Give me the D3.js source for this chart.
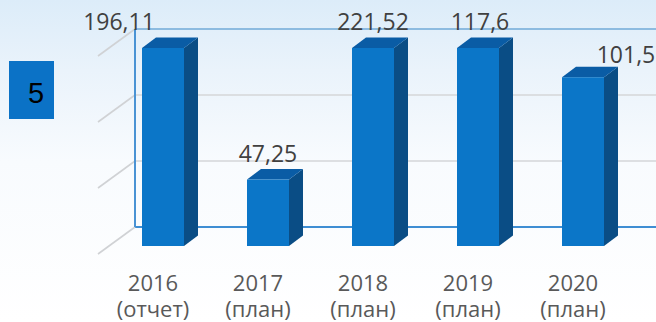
<!DOCTYPE html>
<html>
<head>
<meta charset="utf-8">
<script src="https://cdn.jsdelivr.net/npm/d3@7"></script>
<style>
  html, body { margin: 0; padding: 0; background: #fff; }
  svg { display: block; }
</style>
</head>
<body>
<svg id="chart" width="656" height="322"></svg>
<script>
// Budget figures by year (report / plan)
const years = ["2016", "2017", "2018", "2019", "2020"];
const kinds = ["(отчет)", "(план)", "(план)", "(план)", "(план)"];
const values = [196.11, 47.25, 221.52, 117.6, 101.5];
const valueLabels = ["196,11", "47,25", "221,52", "117,6", "101,5"];
const slideNumber = "5";

// value axis range; taller bars are cut off at the top of the frame
const yMin = 12, yMax = 117;

// label nudges (px) so labels of cut-off bars sit clear of the frame
const labelShift = [[-44, 0], [0, 0], [0, 0], [2, 0], [43, 4]];

const W = 656, H = 322;
const svg = d3.select("#chart");

// background wash
const defs = svg.append("defs");
const bg = defs.append("linearGradient").attr("id", "bg")
  .attr("x1", 0).attr("y1", 0).attr("x2", 0).attr("y2", 1);
bg.append("stop").attr("offset", 0).attr("stop-color", "#dcecf9");
bg.append("stop").attr("offset", 0.22).attr("stop-color", "#eaf3fb");
bg.append("stop").attr("offset", 0.5).attr("stop-color", "#f8fbfe");
bg.append("stop").attr("offset", 1).attr("stop-color", "#ffffff");
svg.append("rect").attr("width", W).attr("height", H).attr("fill", "url(#bg)");

// geometry of the 3D frame
const depth = { dx: 14, dy: -10.5 };   // bar depth
const wallOff = { dx: 26.5, dy: -19 }; // back wall relative to bar front
const sideWall = { dx: -37, dy: 27 };  // left wall extends towards viewer
const frontBase = 246, frontTop = 48;

const x = d3.scaleBand().domain(years).range([110.5, 635.5])
  .paddingInner(0.6).paddingOuter(0.3);
const y = d3.scaleLinear().domain([yMin, yMax]).range([frontBase, frontTop]).clamp(true);

const gridVals = d3.range(4).map(i => yMin + i * (yMax - yMin) / 3);
const wallLeft = 135;

// back wall gridlines
const grid = svg.append("g");
gridVals.forEach((v, i) => {
  const gy = y(v) + wallOff.dy;
  const isEdge = i === 0 || i === gridVals.length - 1;
  grid.append("line")
    .attr("x1", wallLeft).attr("x2", W + 5).attr("y1", gy).attr("y2", gy)
    .attr("stroke", i === 0 ? "#3f8ed3" : (isEdge ? "#8dbbe0" : "#d4d6d9"))
    .attr("stroke-width", isEdge ? 2 : 1.6);
  grid.append("line")
    .attr("x1", wallLeft).attr("y1", gy)
    .attr("x2", wallLeft + sideWall.dx).attr("y2", gy + sideWall.dy)
    .attr("stroke", "#d0d2d5").attr("stroke-width", 1.6);
});
grid.append("line")
  .attr("x1", wallLeft).attr("x2", wallLeft)
  .attr("y1", y(yMax) + wallOff.dy).attr("y2", y(yMin) + wallOff.dy)
  .attr("stroke", "#4a93d4").attr("stroke-width", 2);

// bars
const bw = x.bandwidth();
const bars = svg.append("g").selectAll("g").data(values).join("g");
bars.each(function (v, i) {
  const g = d3.select(this);
  const x0 = x(years[i]), x1 = x0 + bw;
  const yt = y(v), yb = frontBase;
  // side face
  g.append("path")
    .attr("d", `M${x1},${yt}L${x1 + depth.dx},${yt + depth.dy}L${x1 + depth.dx},${yb + depth.dy}L${x1},${yb}Z`)
    .attr("fill", "#0a4d85");
  // top face
  g.append("path")
    .attr("d", `M${x0},${yt}L${x0 + depth.dx},${yt + depth.dy}L${x1 + depth.dx},${yt + depth.dy}L${x1},${yt}Z`)
    .attr("fill", "#0a5ca5");
  // front face
  g.append("rect")
    .attr("x", x0).attr("y", yt).attr("width", bw).attr("height", yb - yt)
    .attr("fill", "#0b76c8");
});

// value labels
svg.append("g").selectAll("text").data(values).join("text")
  .attr("x", (v, i) => x(years[i]) + bw / 2 + labelShift[i][0])
  .attr("y", (v, i) => y(v) - 18 + labelShift[i][1])
  .attr("text-anchor", "middle")
  .attr("font-family", "'Open Sans', sans-serif")
  .attr("font-size", 23)
  .attr("fill", "#404040")
  .text((v, i) => valueLabels[i]);

// category labels, two lines each
const cats = svg.append("g").selectAll("g").data(years).join("g")
  .attr("font-family", "'Open Sans', sans-serif")
  .attr("font-size", 22)
  .attr("fill", "#595959")
  .attr("text-anchor", "middle");
cats.append("text")
  .attr("x", d => x(d) + bw / 2 - 10).attr("y", 290.5)
  .text(d => d);
cats.append("text")
  .attr("x", d => x(d) + bw / 2 - 10).attr("y", 316.5)
  .text((d, i) => kinds[i]);

// slide number badge
svg.append("rect").attr("x", 9).attr("y", 61).attr("width", 45).attr("height", 58)
  .attr("fill", "#0b72c6");
svg.append("text").attr("x", 36).attr("y", 103).attr("text-anchor", "middle")
  .attr("font-family", "'Liberation Sans', Arial, sans-serif")
  .attr("font-size", 29).attr("fill", "#000")
  .text(slideNumber);
</script>
</body>
</html>
